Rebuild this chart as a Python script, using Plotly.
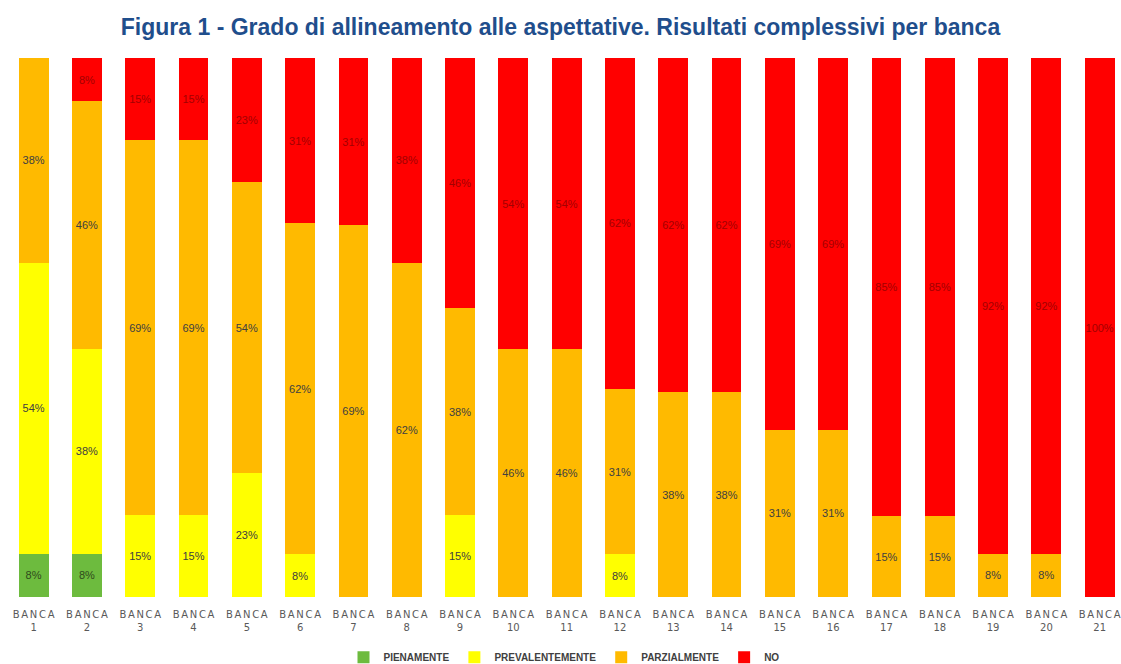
import plotly.graph_objects as go

banche = [f"BANCA {i}" for i in range(1, 22)]

pienamente      = [8, 8, 0, 0, 0, 0, 0, 0, 0, 0, 0, 0, 0, 0, 0, 0, 0, 0, 0, 0, 0]
prevalentemente = [54, 38, 15, 15, 23, 8, 0, 0, 15, 0, 0, 8, 0, 0, 0, 0, 0, 0, 0, 0, 0]
parzialmente    = [38, 46, 69, 69, 54, 62, 69, 62, 38, 46, 46, 31, 38, 38, 31, 31, 15, 15, 8, 8, 0]
no              = [0, 8, 15, 15, 23, 31, 31, 38, 46, 54, 54, 62, 62, 62, 69, 69, 85, 85, 92, 92, 100]

serie = [
    ("PIENAMENTE", pienamente, "#6DBB3E", "#2f4a1c"),
    ("PREVALENTEMENTE", prevalentemente, "#FFFF00", "#404040"),
    ("PARZIALMENTE", parzialmente, "#FFBA00", "#404040"),
    ("NO", no, "#FF0000", "#A30000"),
]

sp = "\u2006"
tick_text = [sp.join("BANCA") + "<br>" + b.split()[1] for b in banche]

fig = go.Figure()
for nome, valori, colore, col_testo in serie:
    fig.add_trace(go.Bar(
        name=nome,
        x=banche,
        y=[v if v > 0 else None for v in valori],
        marker=dict(color=colore, line=dict(width=0)),
        text=[f"{v}%" if v > 0 else "" for v in valori],
        textposition="inside",
        insidetextanchor="middle",
        textangle=0,
        constraintext="none",
        textfont=dict(family="Liberation Sans Narrow, Liberation Sans, Arial", size=11, color=col_testo),
        hoverinfo="skip",
    ))

fig.update_layout(
    barmode="stack",
    barnorm="percent",
    bargap=0.44,
    width=1121,
    height=664,
    paper_bgcolor="white",
    plot_bgcolor="white",
    margin=dict(l=7, r=0, t=58, b=67, autoexpand=False),
    title=dict(
        text="<b>Figura 1 - Grado di allineamento alle aspettative. Risultati complessivi per banca</b>",
        x=0.5, xanchor="center", y=0.96, yanchor="middle",
        font=dict(family="Liberation Sans Narrow, Liberation Sans, Arial", size=23, color="#1F4E8C"),
    ),
    legend=dict(
        orientation="h", x=0.5, xanchor="center", y=-0.112, yanchor="middle",
        font=dict(family="Liberation Sans, Arial", size=10, color="#404040", weight="bold"),
        itemwidth=30, traceorder="normal",
    ),
    uniformtext=dict(minsize=10, mode="show"),
    showlegend=True,
)
fig.update_xaxes(
    range=[-0.5, 20.4],
    tickmode="array", tickvals=banche, ticktext=tick_text,
    tickfont=dict(family="DejaVu Sans, Liberation Sans", size=10, color="#595959"),
    ticklabelstandoff=10,
    automargin=False,
    showgrid=False, showline=False, ticks="",
)
fig.update_yaxes(range=[0, 100], visible=False, showgrid=False)

fig.write_html("out.html")
